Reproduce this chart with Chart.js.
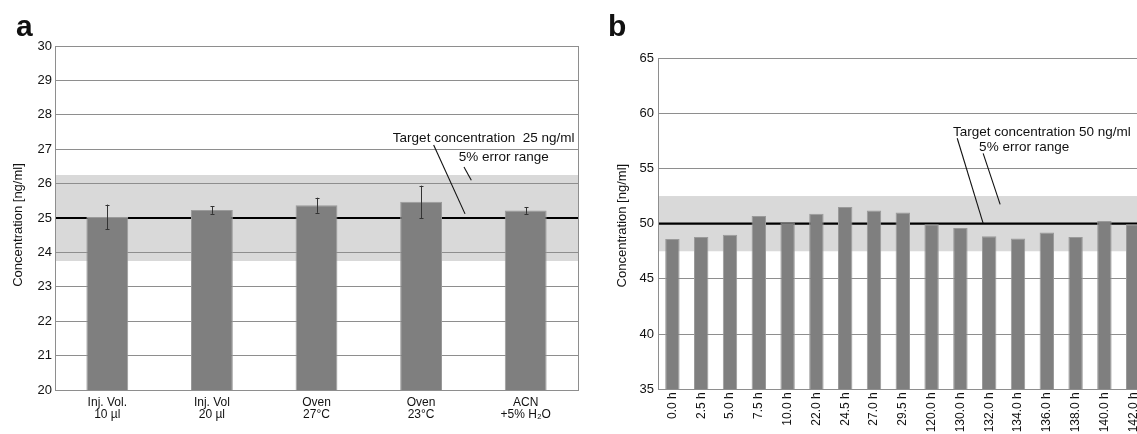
<!DOCTYPE html>
<html><head><meta charset="utf-8">
<script src="https://cdn.jsdelivr.net/npm/chart.js@4/dist/chart.umd.min.js"></script>
<style>
html,body{margin:0;padding:0;background:#fff;width:1137px;height:434px;overflow:hidden;font-family:"Liberation Sans",Arial,sans-serif;}
#wa{position:absolute;left:0;top:0;width:590px;height:434px;}
#wb{position:absolute;left:560px;top:0;width:577px;height:434px;overflow:hidden;}
#wbi{position:absolute;left:0;top:0;width:600px;height:434px;}
.lbl{position:absolute;font-weight:bold;font-size:30px;line-height:1;color:#111;}
</style></head><body>
<div id="wa"><canvas id="ca"></canvas></div>
<div id="wb"><div id="wbi"><canvas id="cb"></canvas></div></div>
<div class="lbl" style="left:16px;top:11px">a</div>
<div class="lbl" style="left:608px;top:11px">b</div>
<script>
// ---- Data: panel a ----
const categoriesA = [["Inj. Vol.","10 µl"],["Inj. Vol","20 µl"],["Oven","27°C"],["Oven","23°C"],["ACN","+5% H₂O"]];
const valuesA = [25.03, 25.23, 25.37, 25.47, 25.22];
const errorsA = [0.36, 0.11, 0.22, 0.47, 0.10];
const targetA = 25;
const yTicksA = [20, 30, 1];   // min, max, step

// ---- Data: panel b ----
const categoriesB = ["0.0 h","2.5 h","5.0 h","7.5 h","10.0 h","22.0 h","24.5 h","27.0 h","29.5 h","120.0 h","130.0 h","132.0 h","134.0 h","136.0 h","138.0 h","140.0 h","142.0 h"];
const valuesB = [48.6, 48.8, 49.0, 50.7, 50.1, 50.9, 51.5, 51.2, 51.0, 49.95, 49.6, 48.85, 48.65, 49.2, 48.8, 50.25, 49.95];
const targetB = 50;
const yTicksB = [35, 65, 5];

const errorRangePct = 5;
const axisTitle = "Concentration [ng/ml]";
const annotationTextA = ["Target concentration  25 ng/ml", "5% error range"];
const annotationTextB = ["Target concentration 50 ng/ml", "5% error range"];

const FONT = "'Liberation Sans', Arial, sans-serif";
const GRID = '#8e8e8e';

const deco = {
  id: 'deco',
  beforeDraw(chart, args, o) {
    const {ctx, chartArea: a, scales: {y}} = chart;
    const lo = o.target * (1 - errorRangePct/100), hi = o.target * (1 + errorRangePct/100);
    const y1 = y.getPixelForValue(hi), y2 = y.getPixelForValue(lo);
    ctx.save();
    ctx.fillStyle = '#d9d9d9';
    ctx.fillRect(a.left, y1, a.right - a.left, y2 - y1);
    ctx.restore();
  },
  beforeDatasetsDraw(chart, args, o) {
    const {ctx, chartArea: a, scales: {y}} = chart;
    const ty = y.getPixelForValue(o.target);
    ctx.save();
    ctx.strokeStyle = '#000';
    ctx.lineWidth = 2.2;
    ctx.beginPath(); ctx.moveTo(a.left, ty); ctx.lineTo(a.right, ty); ctx.stroke();
    ctx.restore();
  },
  afterDatasetsDraw(chart, args, o) {
    const {ctx, chartArea: a, scales: {x, y}} = chart;
    ctx.save();
    // plot border
    ctx.strokeStyle = GRID; ctx.lineWidth = 1;
    ctx.strokeRect(Math.round(a.left)+0.5, Math.round(a.top)+0.5, Math.round(a.right-a.left), Math.round(a.bottom-a.top));
    // error bars
    if (o.errors) {
      const meta = chart.getDatasetMeta(0);
      const vals = chart.data.datasets[0].data;
      ctx.strokeStyle = '#333'; ctx.lineWidth = 1;
      meta.data.forEach((bar, i) => {
        const e = o.errors[i];
        const xt = Math.round(bar.x) + 0.5;
        const yt = y.getPixelForValue(vals[i] + e), yb = y.getPixelForValue(vals[i] - e);
        ctx.beginPath();
        ctx.moveTo(xt, yt); ctx.lineTo(xt, yb);
        ctx.moveTo(xt - 2, Math.round(yt)+0.5); ctx.lineTo(xt + 2, Math.round(yt)+0.5);
        ctx.moveTo(xt - 2, Math.round(yb)+0.5); ctx.lineTo(xt + 2, Math.round(yb)+0.5);
        ctx.stroke();
      });
    }
    // y-axis title
    ctx.fillStyle = '#111';
    ctx.font = '13px ' + FONT;
    ctx.textAlign = 'center'; ctx.textBaseline = 'middle';
    ctx.save();
    ctx.translate(o.titleX, (a.top + a.bottom) / 2 + o.titleShift);
    ctx.rotate(-Math.PI / 2);
    ctx.fillText(axisTitle, 0, 0);
    ctx.restore();
    // annotations
    ctx.font = '13.5px ' + FONT;
    ctx.textAlign = 'left'; ctx.textBaseline = 'middle';
    o.texts.forEach(t => ctx.fillText(t.t, x.getPixelForValue(t.x), y.getPixelForValue(t.y)));
    ctx.strokeStyle = '#111'; ctx.lineWidth = 1.1;
    o.lines.forEach(l => {
      ctx.beginPath();
      ctx.moveTo(x.getPixelForValue(l[0]), y.getPixelForValue(l[1]));
      ctx.lineTo(x.getPixelForValue(l[2]), y.getPixelForValue(l[3]));
      ctx.stroke();
    });
    ctx.restore();
  }
};

function makeChart(id, cats, vals, yt, cfg) {
  return new Chart(document.getElementById(id), {
    type: 'bar',
    data: { labels: cats, datasets: [{ data: vals, backgroundColor: '#7f7f7f', borderColor: '#9a9a9a', borderWidth: 1,
      barPercentage: cfg.barPct, categoryPercentage: 1 }] },
    options: {
      responsive: true, maintainAspectRatio: false, animation: false,
      layout: { padding: { left: 0, right: cfg.padRight, top: cfg.padTop, bottom: 0 } },
      plugins: { legend: { display: false }, tooltip: { enabled: false },
        deco: { target: cfg.target, errors: cfg.errors, texts: cfg.texts, lines: cfg.lines, titleX: cfg.titleX, titleShift: cfg.titleShift } },
      scales: {
        x: {
          grid: { display: false, drawTicks: false },
          border: { display: true, color: GRID },
          ticks: { color: '#111', font: { family: FONT, size: 12, lineHeight: 1.05 }, padding: cfg.xPad,
            autoSkip: false, minRotation: cfg.rot, maxRotation: cfg.rot },
          afterFit(s) { s.height = cfg.xH; }
        },
        y: {
          min: yt[0], max: yt[1],
          grid: { color: GRID, lineWidth: 1, drawTicks: false },
          border: { display: true, color: GRID },
          ticks: { stepSize: yt[2], color: '#111', font: { family: FONT, size: 13 }, padding: cfg.yPad },
          afterFit(s) { s.width = cfg.yW; }
        }
      }
    },
    plugins: [deco]
  });
}

makeChart('ca', categoriesA, valuesA, yTicksA, {
  barPct: 0.4, padRight: 12, padTop: 46, xH: 44, yW: 55, xPad: 6, yPad: 3, rot: 0, titleX: 18, titleShift: 7,
  target: targetA, errors: errorsA,
  texts: [{t: annotationTextA[0], x: 2.73, y: 27.33}, {t: annotationTextA[1], x: 3.36, y: 26.77}],
  lines: [[3.12, 27.12, 3.42, 25.12], [3.41, 26.48, 3.48, 26.1]]
});

makeChart('cb', categoriesB, valuesB, yTicksB, {
  barPct: 0.5, padRight: 12.4, padTop: 58, xH: 44.7, yW: 98, xPad: 3, yPad: 4, rot: 90, titleX: 62, titleShift: 2,
  target: targetB, errors: null,
  texts: [{t: annotationTextB[0], x: 9.74, y: 58.28}, {t: annotationTextB[1], x: 10.65, y: 56.92}],
  lines: [[9.89, 57.73, 10.79, 50.03], [10.79, 56.37, 11.38, 51.75]]
});
</script>
</body></html>
